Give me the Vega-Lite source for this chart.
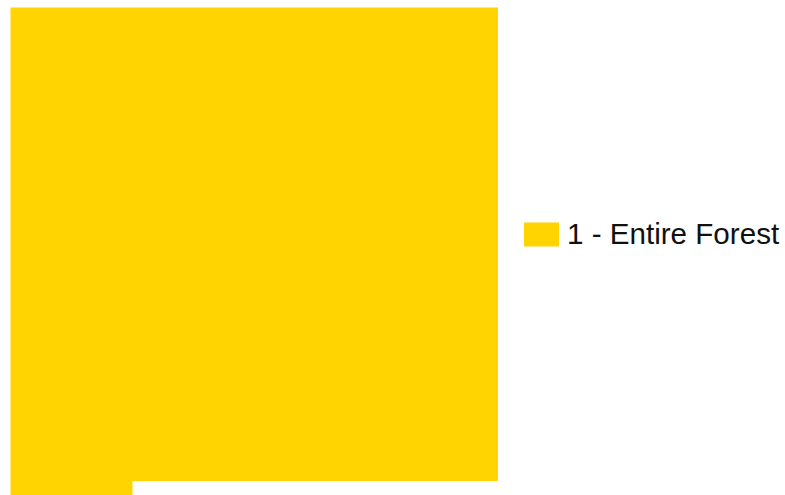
{"$schema":"https://vega.github.io/schema/vega-lite/v6.json","width":785,"height":495,"autosize":{"type":"fit","contains":"padding"},"padding":0,"background":"white","view":{"stroke":null},"data":{"values":[{"zone":"1 - Entire Forest","x0":10.5,"x1":498,"y0":7.5,"y1":481},{"zone":"1 - Entire Forest","x0":10.5,"x1":132.5,"y0":481,"y1":495}]},"mark":{"type":"rect","strokeWidth":0},"encoding":{"x":{"field":"x0","type":"quantitative","scale":{"domain":[0,785],"nice":false,"zero":false},"axis":null},"x2":{"field":"x1"},"y":{"field":"y0","type":"quantitative","scale":{"domain":[495,0],"nice":false,"zero":false},"axis":null},"y2":{"field":"y1"},"color":{"field":"zone","type":"nominal","scale":{"range":["#FFD400"]},"legend":{"title":null,"orient":"none","legendX":524,"legendY":217,"padding":0,"symbolType":"M-1,-0.686H1V0.686H-1Z","symbolSize":1225,"symbolStrokeWidth":0,"symbolOpacity":1,"labelFont":"Liberation Sans","labelFontSize":29.6,"labelColor":"#111111","labelLimit":400,"labelOffset":8}}}}
